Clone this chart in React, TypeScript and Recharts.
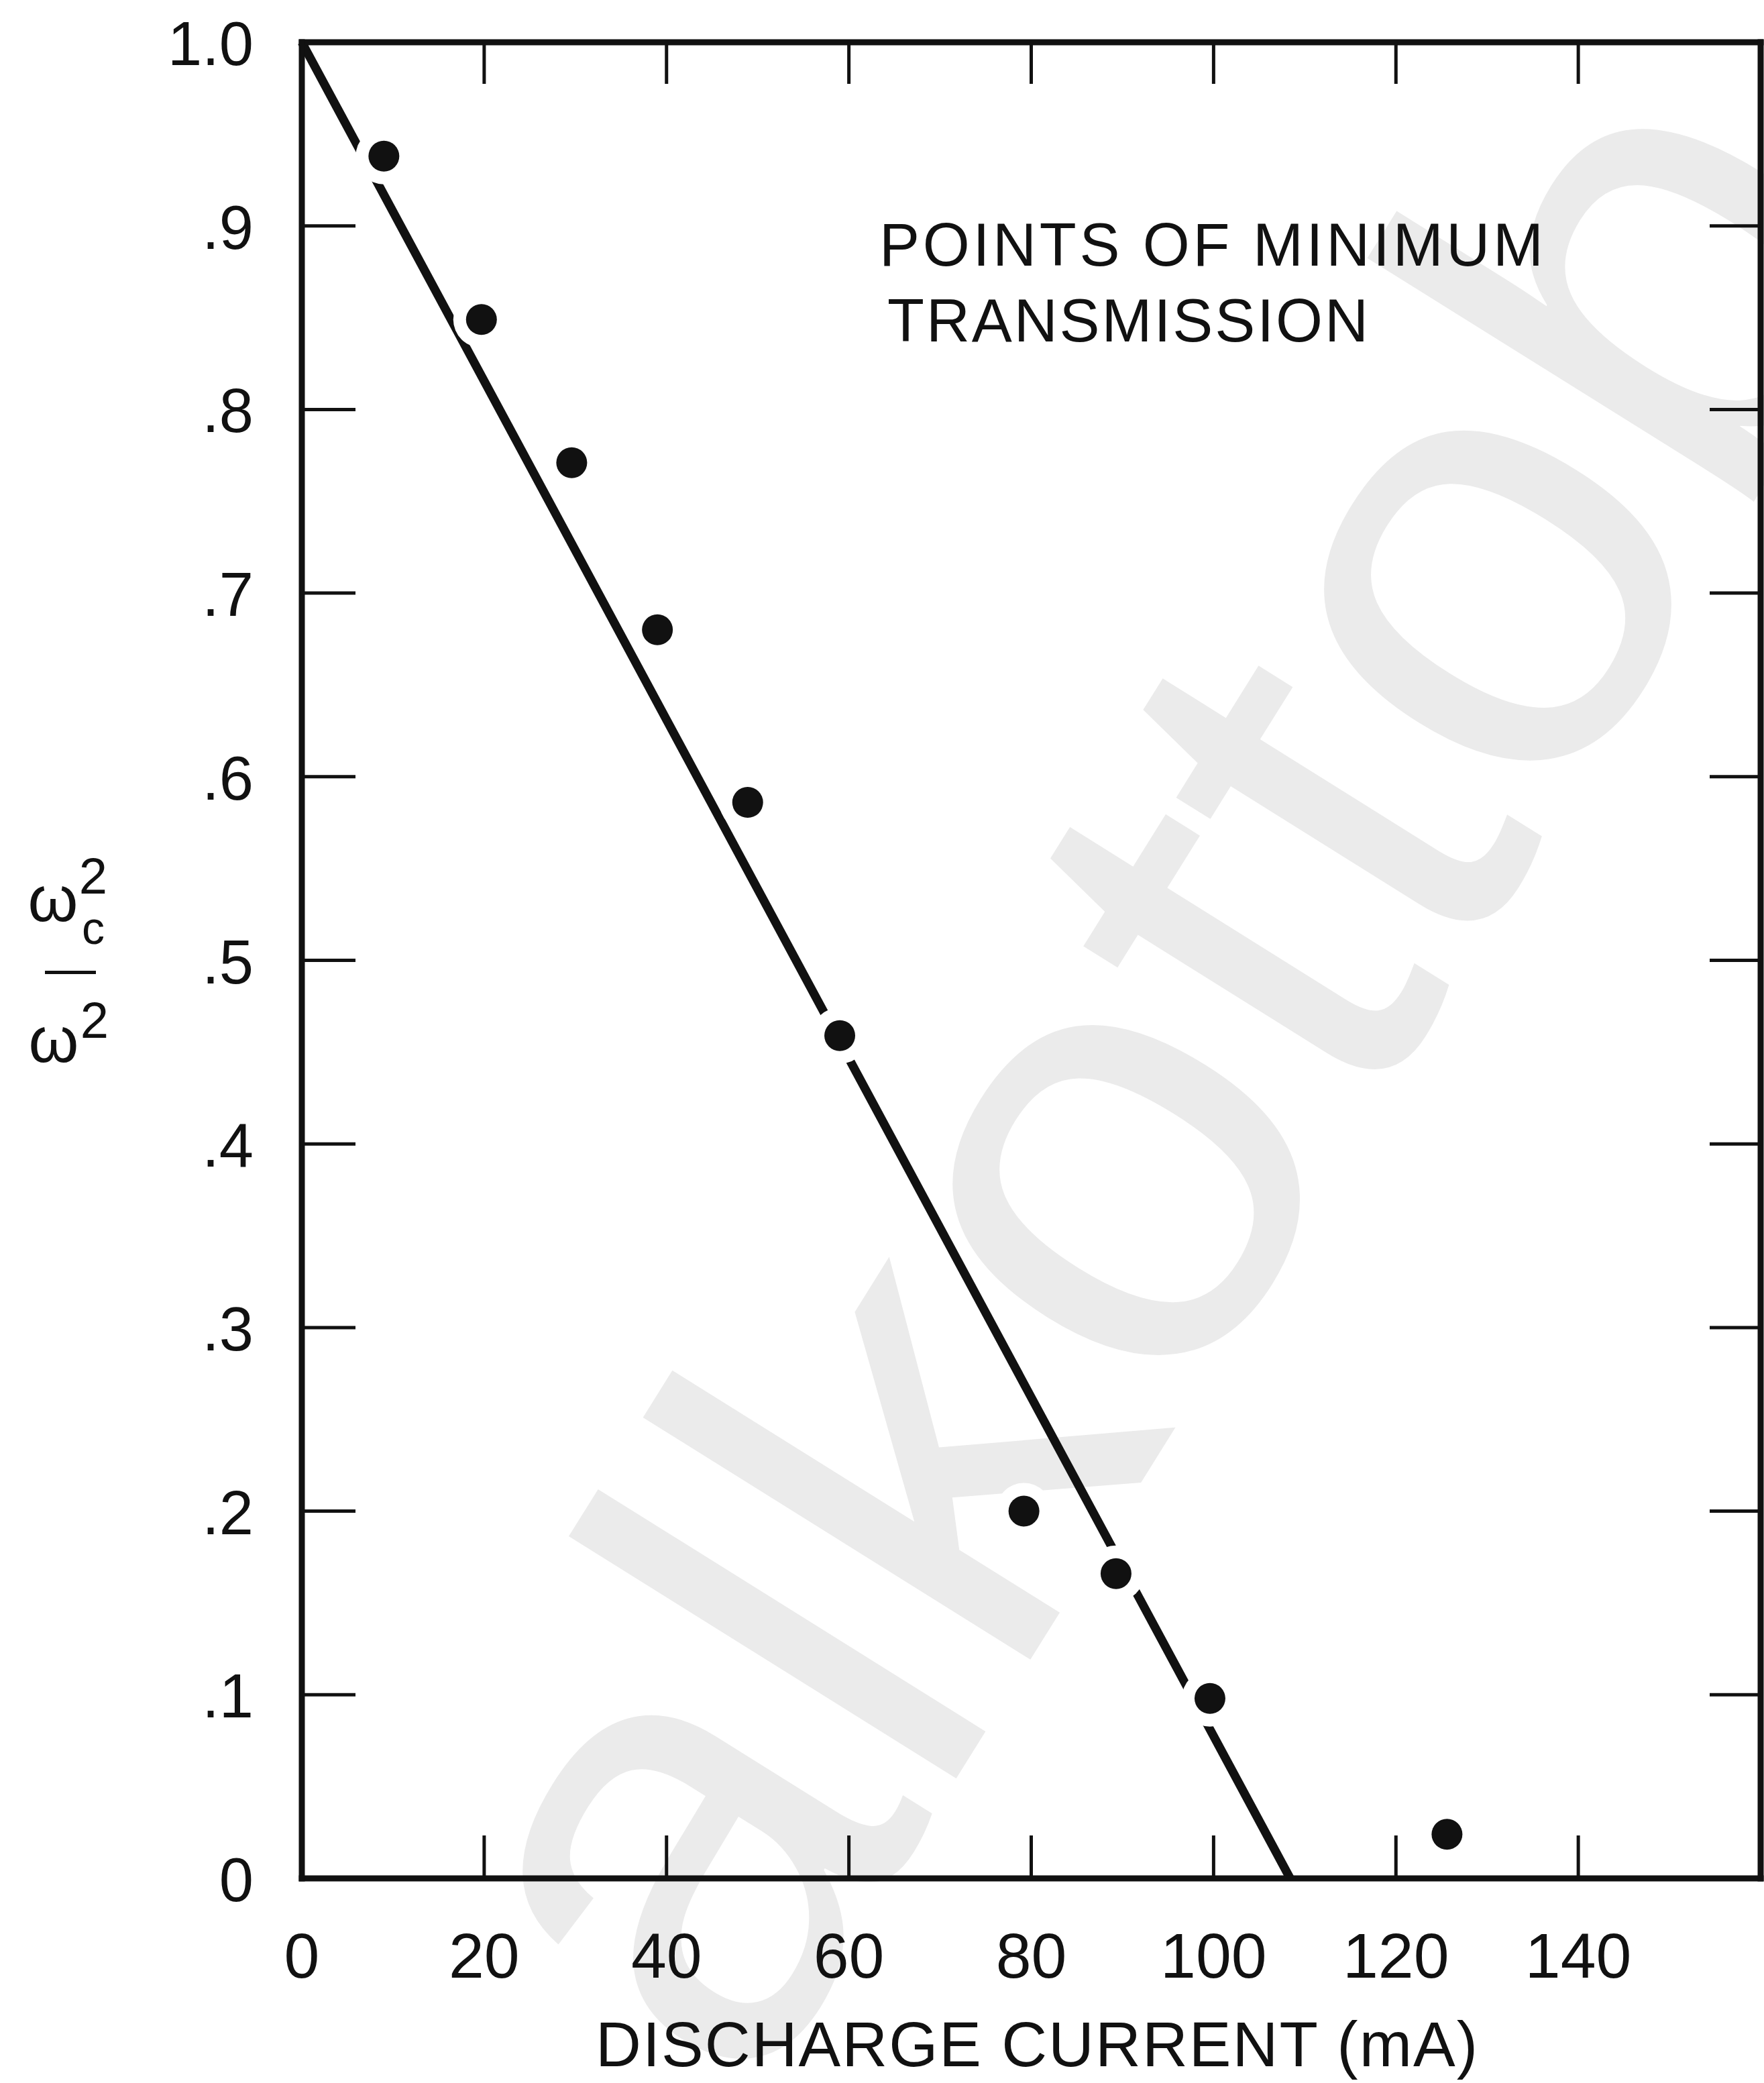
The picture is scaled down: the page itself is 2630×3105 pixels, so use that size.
import React from "react";
import { ComposedChart, XAxis, YAxis, Line, Scatter, Label } from "recharts";

// measured points of minimum transmission
const CURRENT_MA = [9, 19.7, 29.6, 39, 48.9, 59, 79.2, 89.3, 99.6, 125.6];
const FREQ_RATIO = [0.938, 0.849, 0.771, 0.68, 0.586, 0.459, 0.2, 0.166, 0.098, 0.024];

// straight line drawn through the points
const FIT_CURRENT = [0, 108.4];
const FIT_RATIO = [1.0, 0];

const X_TICKS = [0, 20, 40, 60, 80, 100, 120, 140];
const X_FRAME_TICKS = [20, 40, 60, 80, 100, 120, 140];
const Y_TICKS = [0, 0.1, 0.2, 0.3, 0.4, 0.5, 0.6, 0.7, 0.8, 0.9, 1.0];
const Y_TICK_LABELS = ["0", ".1", ".2", ".3", ".4", ".5", ".6", ".7", ".8", ".9", "1.0"];
const Y_FRAME_TICKS = [0.1, 0.2, 0.3, 0.4, 0.5, 0.6, 0.7, 0.8, 0.9];

const points = CURRENT_MA.map((x, i) => ({ x, y: FREQ_RATIO[i] }));
const fitLine = FIT_CURRENT.map((x, i) => ({ x, y: FIT_RATIO[i] }));

const W = 2630;
const H = 3105;
const FONT = "'Liberation Sans', Arial, sans-serif";
const INK = "#111";
const frame = { stroke: INK, strokeWidth: 9, strokeLinecap: "square" as const };
const tickStroke = { stroke: INK, strokeWidth: 5 };

const NoTick = () => <g />;

function XTick({ x, y, payload }: any) {
  return (
    <text x={x} y={y + 148} textAnchor="middle" fontSize={95} fontFamily={FONT} fill={INK}>
      {payload.value}
    </text>
  );
}

function YTick({ x, y, payload }: any) {
  const i = Y_TICKS.findIndex((v) => Math.abs(v - payload.value) < 1e-6);
  return (
    <text x={x - 72} y={y} dy={34} textAnchor="end" fontSize={92} fontFamily={FONT} fill={INK}>
      {Y_TICK_LABELS[i]}
    </text>
  );
}

function XTitle({ viewBox }: any) {
  const cx = viewBox.x + viewBox.width / 2 + 8;
  return (
    <text
      x={cx}
      y={viewBox.y + 280}
      textAnchor="middle"
      fontSize={94}
      fontFamily={FONT}
      fill={INK}
      textLength={1315}
      lengthAdjust="spacing"
    >
      DISCHARGE CURRENT (mA)
    </text>
  );
}

// stacked fraction  ω_c² / ω²
function YTitle({ viewBox }: any) {
  const barY = viewBox.y + viewBox.height / 2 + 18;
  const t = { fontFamily: FONT, fill: INK };
  return (
    <g>
      <text x={79} y={barY - 77} textAnchor="middle" fontSize={96} {...t}>ω</text>
      <text x={139} y={barY - 118} textAnchor="middle" fontSize={76} {...t}>2</text>
      <text x={139} y={barY - 43} textAnchor="middle" fontSize={68} {...t}>c</text>
      <line x1={67} x2={143} y1={barY} y2={barY} stroke={INK} strokeWidth={5} />
      <text x={80} y={barY + 133} textAnchor="middle" fontSize={96} {...t}>ω</text>
      <text x={141} y={barY + 97} textAnchor="middle" fontSize={76} {...t}>2</text>
    </g>
  );
}

function Mark({ cx, cy }: any) {
  return (
    <g>
      <circle cx={cx} cy={cy} r={42} fill="#fff" />
      <circle cx={cx} cy={cy} r={23} fill={INK} />
    </g>
  );
}

export default function App() {
  return (
    <div style={{ position: "absolute", left: 0, top: 0, width: W, height: H, background: "#fff", overflow: "hidden" }}>
      {/* watermark */}
      <svg width={W} height={H} style={{ position: "absolute", left: 0, top: 0 }}>
        <text
          x={0}
          y={0}
          transform="translate(1115 3148) rotate(-58)"
          fontSize={940}
          fontFamily={FONT}
          fill="#ebebeb"
        >
          alkottob
        </text>
      </svg>

      <div style={{ position: "absolute", left: 0, top: 0 }}>
        <ComposedChart width={W} height={H} margin={{ top: 63, right: 5, bottom: 304, left: 449 }}>
          <XAxis
            xAxisId="b"
            type="number"
            dataKey="x"
            domain={[0, 160]}
            ticks={X_TICKS}
            interval={0}
            orientation="bottom"
            height={1}
            axisLine={frame}
            tickLine={false}
            tickSize={0}
            tickMargin={0}
            tick={XTick}
          >
            <Label content={XTitle} />
          </XAxis>
          <XAxis
            xAxisId="bi"
            type="number"
            dataKey="x"
            domain={[0, 160]}
            ticks={X_FRAME_TICKS}
            interval={0}
            orientation="bottom"
            mirror
            height={1}
            axisLine={false}
            tickLine={tickStroke}
            tickSize={64}
            tick={NoTick}
          />
          <XAxis
            xAxisId="t"
            type="number"
            dataKey="x"
            domain={[0, 160]}
            ticks={X_FRAME_TICKS}
            interval={0}
            orientation="top"
            mirror
            height={1}
            axisLine={frame}
            tickLine={tickStroke}
            tickSize={62}
            tick={NoTick}
          />
          <YAxis
            yAxisId="l"
            type="number"
            dataKey="y"
            domain={[0, 1]}
            ticks={Y_TICKS}
            interval={0}
            width={1}
            axisLine={frame}
            tickLine={false}
            tickSize={0}
            tickMargin={0}
            tick={YTick}
          >
            <Label content={YTitle} />
          </YAxis>
          <YAxis
            yAxisId="li"
            type="number"
            dataKey="y"
            domain={[0, 1]}
            ticks={Y_FRAME_TICKS}
            interval={0}
            mirror
            width={1}
            axisLine={false}
            tickLine={tickStroke}
            tickSize={80}
            tick={NoTick}
          />
          <YAxis
            yAxisId="r"
            type="number"
            dataKey="y"
            domain={[0, 1]}
            ticks={Y_FRAME_TICKS}
            interval={0}
            orientation="right"
            mirror
            width={1}
            axisLine={frame}
            tickLine={tickStroke}
            tickSize={76}
            tick={NoTick}
          />

          {/* invisible copies so the frame axes get their ticks */}
          <Line
            xAxisId="bi"
            yAxisId="li"
            data={fitLine}
            dataKey="y"
            stroke="none"
            dot={false}
            activeDot={false}
            isAnimationActive={false}
          />
          <Line
            xAxisId="t"
            yAxisId="r"
            data={fitLine}
            dataKey="y"
            stroke="none"
            dot={false}
            activeDot={false}
            isAnimationActive={false}
          />

          <Line
            xAxisId="b"
            yAxisId="l"
            data={fitLine}
            dataKey="y"
            type="linear"
            stroke={INK}
            strokeWidth={13}
            dot={false}
            activeDot={false}
            isAnimationActive={false}
          />
          <Scatter
            xAxisId="b"
            yAxisId="l"
            data={points}
            dataKey="y"
            shape={Mark}
            isAnimationActive={false}
          />
        </ComposedChart>
      </div>

      {/* annotation */}
      <svg width={W} height={H} style={{ position: "absolute", left: 0, top: 0, pointerEvents: "none" }}>
        <text x={1311} y={396} fontSize={90} fontFamily={FONT} fill={INK} textLength={990} lengthAdjust="spacing">
          POINTS OF MINIMUM
        </text>
        <text x={1323} y={509} fontSize={90} fontFamily={FONT} fill={INK} textLength={717} lengthAdjust="spacing">
          TRANSMISSION
        </text>
      </svg>
    </div>
  );
}
